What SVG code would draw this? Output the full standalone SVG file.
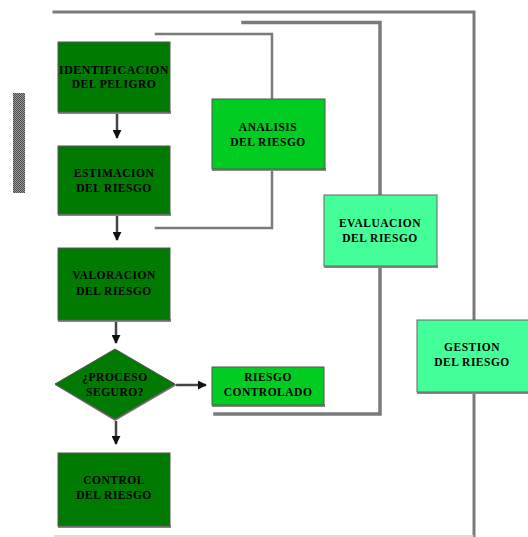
<svg xmlns="http://www.w3.org/2000/svg" width="528" height="537" viewBox="0 0 528 537">
<style>
.dk{fill:#007a00;stroke:#555;stroke-width:1}
.br{fill:#00cc22;stroke:#555;stroke-width:1}
.mt{fill:#44ff99;stroke:#666;stroke-width:1}
.sh{fill:#888}
.t{font-family:"Liberation Serif",serif;font-weight:bold;font-size:11.5px;fill:#000;text-anchor:middle;letter-spacing:0.5px}
.ln{fill:none;stroke:#7a7a7a;stroke-linecap:square}
.ar{fill:none;stroke:#444;stroke-width:2.5}
</style>
<defs>
<marker id="ah" viewBox="0 0 10 10" refX="9" refY="5" markerWidth="3.6" markerHeight="3.6" orient="auto" markerUnits="strokeWidth">
<path d="M0,0 L10,5 L0,10 z" fill="#111"/>
</marker>
<pattern id="chk" width="2" height="2" patternUnits="userSpaceOnUse">
<rect width="2" height="2" fill="#9a9a9a"/>
<rect width="1" height="1" fill="#4a4a4a"/>
<rect x="1" y="1" width="1" height="1" fill="#4a4a4a"/>
</pattern>
</defs>
<rect width="528" height="537" fill="#fff"/>
<rect x="13" y="93" width="12" height="100" fill="url(#chk)"/>
<g id="connectors">
<polyline class="ln" stroke-width="3" points="54,12 474,12 474,320"/>
<line class="ln" stroke-width="3" x1="474" y1="393" x2="474" y2="537"/>
<polyline class="ln" stroke-width="3.5" points="243,22.5 380,22.5 380,195"/>
<polyline class="ln" stroke-width="3.5" points="380,267 380,414 215,414"/>
<polyline class="ln" stroke-width="2.5" points="156,34 272,34 272,99"/>
<polyline class="ln" stroke-width="2.5" points="272,170 272,228 156,228"/>
<line x1="54" y1="536" x2="474" y2="536" stroke="#d0d0d0" stroke-width="1.5"/>
<line class="ar" x1="117" y1="114" x2="117" y2="138" marker-end="url(#ah)"/>
<line class="ar" x1="117" y1="216" x2="117" y2="240" marker-end="url(#ah)"/>
<line class="ar" x1="116" y1="322" x2="116" y2="343" marker-end="url(#ah)"/>
<line class="ar" x1="116" y1="421" x2="116" y2="444" marker-end="url(#ah)"/>
<line class="ar" x1="176" y1="385" x2="206" y2="385" marker-end="url(#ah)"/>
</g>
<g id="identificacion">
<rect class="sh" x="58" y="111" width="113" height="3"/>
<rect class="dk" x="58" y="42" width="112" height="70"/>
<text class="t" x="114" y="74" textLength="110" lengthAdjust="spacingAndGlyphs">IDENTIFICACION</text>
<text class="t" x="114" y="88">DEL PELIGRO</text>
</g>
<g id="estimacion">
<rect class="sh" x="58" y="213" width="113" height="3"/>
<rect class="dk" x="58" y="146" width="112" height="68"/>
<text class="t" x="114" y="177">ESTIMACION</text>
<text class="t" x="114" y="192">DEL RIESGO</text>
</g>
<g id="valoracion">
<rect class="sh" x="58" y="319" width="113" height="3"/>
<rect class="dk" x="58" y="248" width="112" height="72"/>
<text class="t" x="114" y="279">VALORACION</text>
<text class="t" x="114" y="295">DEL RIESGO</text>
</g>
<g id="proceso">
<polygon points="115,350 177,385 115,421 55,385" fill="#777"/>
<polygon class="dk" points="115,349 175,384 115,419 55,384"/>
<text class="t" x="115" y="381">¿PROCESO</text>
<text class="t" x="115" y="396">SEGURO?</text>
</g>
<g id="control">
<rect class="sh" x="58" y="525" width="113" height="3"/>
<rect class="dk" x="58" y="453" width="112" height="73"/>
<text class="t" x="114" y="484">CONTROL</text>
<text class="t" x="114" y="499">DEL RIESGO</text>
</g>
<g id="riesgo-controlado">
<rect class="sh" x="212" y="404" width="113" height="3"/>
<rect class="br" x="212" y="367" width="112" height="38"/>
<text class="t" x="268" y="381">RIESGO</text>
<text class="t" x="268" y="396">CONTROLADO</text>
</g>
<g id="analisis">
<rect class="sh" x="212" y="168" width="114" height="3"/>
<rect class="br" x="212" y="99" width="113" height="70"/>
<text class="t" x="268" y="131">ANALISIS</text>
<text class="t" x="268" y="146">DEL RIESGO</text>
</g>
<g id="evaluacion">
<rect class="sh" x="324" y="265" width="114" height="3"/>
<rect class="mt" x="324" y="195" width="113" height="71"/>
<text class="t" x="380" y="227">EVALUACION</text>
<text class="t" x="380" y="242">DEL RIESGO</text>
</g>
<g id="gestion">
<rect class="sh" x="417" y="391" width="112" height="3"/>
<rect class="mt" x="417" y="320" width="112" height="72"/>
<text class="t" x="472" y="351">GESTION</text>
<text class="t" x="472" y="366">DEL RIESGO</text>
</g>
</svg>
